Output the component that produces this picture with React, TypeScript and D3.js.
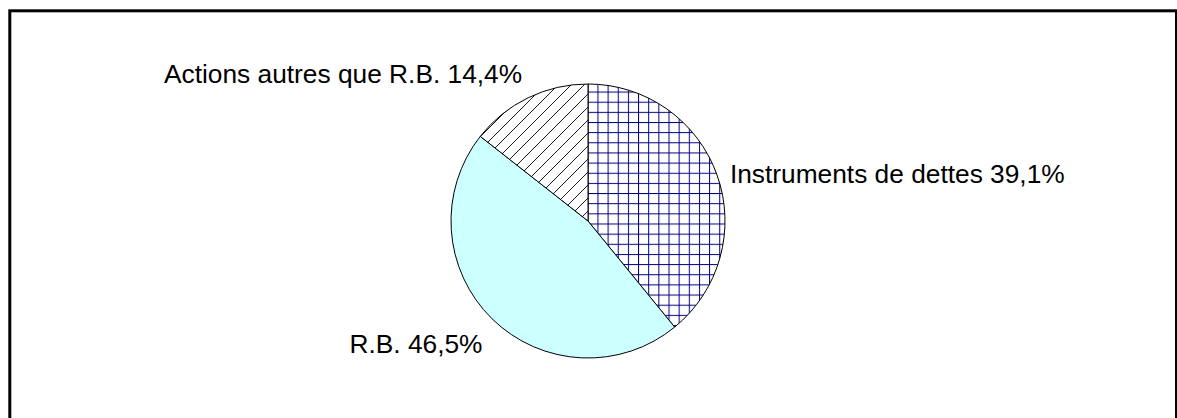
import React from "react";
import * as d3 from "d3";

// slice values, clockwise from 12 o'clock
const labels = ["Instruments de dettes", "R.B.", "Actions autres que R.B."];
const values = [39.1, 46.5, 14.4];
const fills = ["url(#grid)", "#CCFFFF", "url(#hatch)"];

const width = 1177;
const height = 418;
const cx = 588;
const cy = 221;
const radius = 137;

const fmt = (v: number) => v.toFixed(1).replace(".", ",") + "%";

export default function App() {
  const pie = d3
    .pie<number>()
    .sort(null)
    .value((d) => d);
  const arcs = pie(values);
  const arc = d3.arc<d3.PieArcDatum<number>>().innerRadius(0).outerRadius(radius);
  const labelArc = d3
    .arc<d3.PieArcDatum<number>>()
    .innerRadius(radius * 1.1)
    .outerRadius(radius * 1.1);

  return (
    <svg
      width={width}
      height={height}
      style={{ position: "absolute", left: 0, top: 0, background: "#fff" }}
    >
      <defs>
        <pattern id="grid" patternUnits="userSpaceOnUse" x={588} y={104} width={10.15} height={10.15}>
          <rect width={10.15} height={10.15} fill="#fff" />
          <line x1={0.5} y1={0} x2={0.5} y2={10.15} stroke="#000080" strokeWidth={1} />
          <line x1={0} y1={0.5} x2={10.15} y2={0.5} stroke="#000080" strokeWidth={1} />
        </pattern>
        <pattern id="hatch" patternUnits="userSpaceOnUse" x={588} y={0} width={13} height={13}>
          <rect width={13} height={13} fill="#fff" />
          <line x1={0} y1={13} x2={13} y2={0} stroke="#000" strokeWidth={0.9} />
          <line x1={-1} y1={1} x2={1} y2={-1} stroke="#000" strokeWidth={0.9} />
          <line x1={12} y1={14} x2={14} y2={12} stroke="#000" strokeWidth={0.9} />
        </pattern>
      </defs>

      <rect x={9.8} y={10.8} width={1166.7} height={430} fill="none" stroke="#000" strokeWidth={3} />

      <g transform={`translate(${cx},${cy})`}>
        {arcs.map((a, i) => (
          <path key={labels[i]} d={arc(a) || ""} fill={fills[i]} stroke="#000" strokeWidth={1} />
        ))}
        {arcs.map((a, i) => {
          const [x, y] = labelArc.centroid(a);
          const mid = (a.startAngle + a.endAngle) / 2;
          // place the label box beside the slice, like the spreadsheet does
          const baseline = y + 4.3 - 14.5 * Math.cos(mid) + 14.3 * Math.abs(Math.sin(mid));
          return (
            <text
              key={`lbl-${i}`}
              x={x}
              y={baseline}
              textAnchor={x > 0 ? "start" : "end"}
              fontFamily="'Liberation Sans', Arial, sans-serif"
              fontSize={26.3}
              fill="#000"
            >
              {`${labels[i]} ${fmt(values[i])}`}
            </text>
          );
        })}
      </g>
    </svg>
  );
}
